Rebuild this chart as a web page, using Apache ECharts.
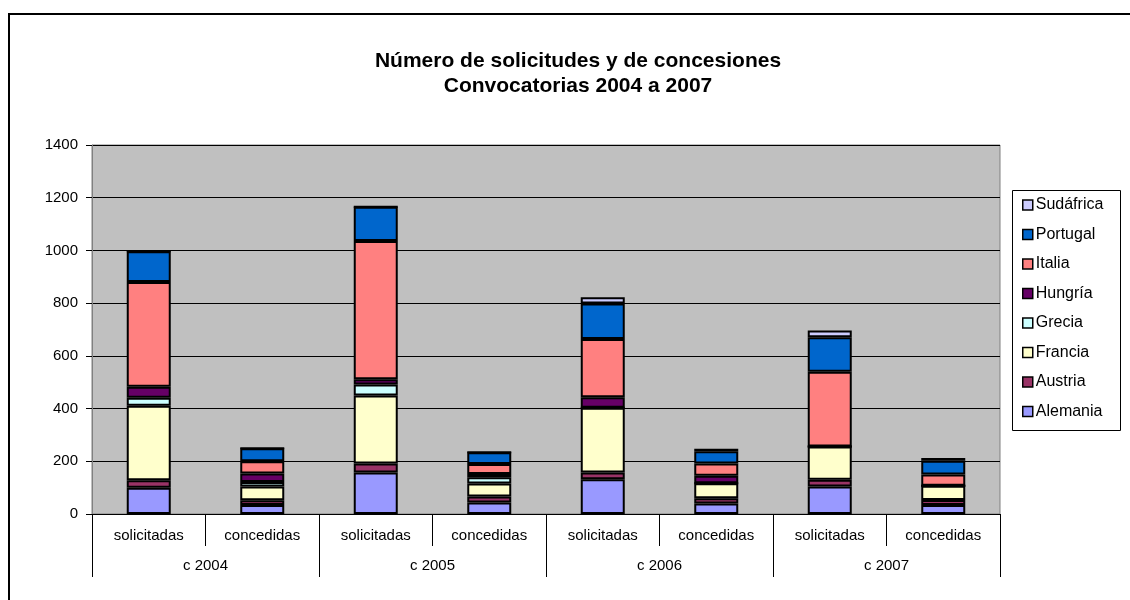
<!DOCTYPE html>
<html>
<head>
<meta charset="utf-8">
<script src="https://cdn.jsdelivr.net/npm/echarts@6/dist/echarts.min.js"></script>
<style>html,body{margin:0;padding:0;background:#fff}#c{width:1130px;height:600px}</style>
</head>
<body>
<div id="c"></div>
<script>
var categories = ['solicitadas','concedidas','solicitadas','concedidas','solicitadas','concedidas','solicitadas','concedidas'];
var groups = ['c 2004','c 2005','c 2006','c 2007'];
var yTicks = [0,200,400,600,800,1000,1200,1400];
var Alemania  = [100, 34, 157, 44, 132, 40, 104, 34];
var Austria   = [28, 18, 35, 22, 25, 20, 26, 19];
var Francia   = [283, 52, 258, 50, 246, 57, 126, 54];
var Grecia    = [30, 17, 41, 23, 0, 0, 0, 0];
var Hungria   = [42, 33, 20, 13, 40, 28, 0, 0];
var Italia    = [397, 46, 525, 38, 221, 47, 284, 43];
var Portugal  = [117, 49, 130, 44, 135, 46, 131, 52];
var Sudafrica = [0, 0, 0, 0, 23, 10, 25, 10];

var seriesDefs = [
  ['Alemania', Alemania, '#9999ff'],
  ['Austria', Austria, '#993366'],
  ['Francia', Francia, '#ffffcc'],
  ['Grecia', Grecia, '#ccffff'],
  ['Hungría', Hungria, '#660066'],
  ['Italia', Italia, '#ff8080'],
  ['Portugal', Portugal, '#0066cc'],
  ['Sudáfrica', Sudafrica, '#ccccff']
];
var FONT = '"Liberation Sans", Arial, sans-serif';
var chart = echarts.init(document.getElementById('c'), null, {renderer:'canvas'});
chart.setOption({
  animation: false,
  title: {
    text: 'Número de solicitudes y de concesiones\nConvocatorias 2004 a 2007',
    left: 573, top: 44, textAlign: 'center',
    textStyle: {fontFamily: FONT, fontSize: 21, fontWeight: 'bold', color: '#000', lineHeight: 25}
  },
  graphic: [{
    type: 'rect', silent: true, z: 0,
    shape: {x: 9, y: 14, width: 1300, height: 800},
    style: {fill: 'none', stroke: '#000', lineWidth: 2}
  }, {
    type: 'rect', silent: true, z: 1,
    shape: {x: 1012.5, y: 190.5, width: 108, height: 240},
    style: {fill: '#fff', stroke: '#000', lineWidth: 1}
  }],
  legend: {
    orient: 'vertical', left: 1012, top: 190,
    padding: [7, 4, 7, 10],
    itemWidth: 10, itemHeight: 10, itemGap: 13.5,
    icon: 'rect', z: 5,
    data: ['Sudáfrica','Portugal','Italia','Hungría','Grecia','Francia','Austria','Alemania'],
    textStyle: {fontFamily: FONT, fontSize: 16, color: '#000', padding: [0,0,0,-2]},
    itemStyle: {borderColor: '#000', borderWidth: 1.5}
  },
  grid: {
    left: 92, right: 130, top: 145, bottom: 86,
    show: true, backgroundColor: '#c0c0c0', borderColor: '#808080', borderWidth: 1
  },
  xAxis: [{
    type: 'category', data: categories, position: 'bottom',
    axisLine: {show: true, lineStyle: {color: '#000', width: 1}},
    axisTick: {show: true, length: 32, lineStyle: {color: '#000'}},
    axisLabel: {margin: 14, fontFamily: FONT, fontSize: 15, color: '#000', interval: 0},
    splitLine: {show: false}
  }, {
    type: 'category', data: groups, position: 'bottom',
    axisLine: {show: false},
    axisTick: {show: true, length: 63, lineStyle: {color: '#000'}},
    axisLabel: {margin: 44, fontFamily: FONT, fontSize: 15, color: '#000', interval: 0},
    splitLine: {show: false}
  }],
  yAxis: {
    type: 'value', min: 0, max: 1400, interval: 200,
    axisLine: {show: true, lineStyle: {color: '#808080'}},
    axisTick: {show: true, length: 6, lineStyle: {color: '#000'}},
    axisLabel: {margin: 14, fontFamily: FONT, fontSize: 15, color: '#000',
      formatter: function(v){ return yTicks.indexOf(v) >= 0 ? String(v) : ''; }},
    splitLine: {show: true, lineStyle: {color: '#000', width: 1}}
  },
  series: seriesDefs.map(function(d){
    return {
      name: d[0], type: 'bar', stack: 'total', data: d[1],
      xAxisIndex: 0, barWidth: 44,
      itemStyle: {color: d[2], borderColor: '#000', borderWidth: 2}
    };
  })
});
</script>
</body>
</html>
